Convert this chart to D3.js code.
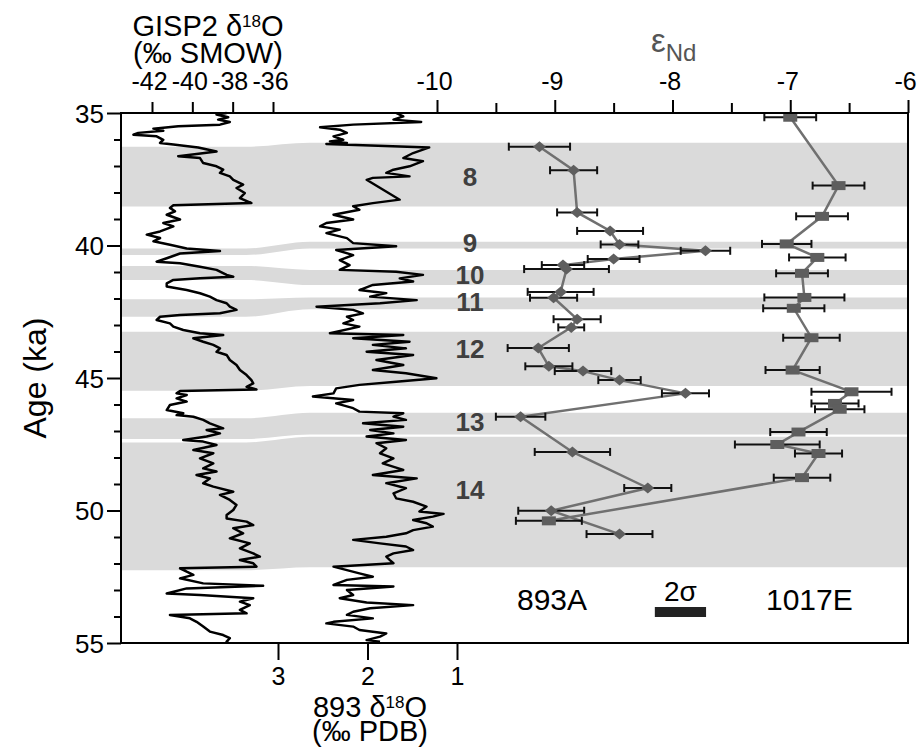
<!DOCTYPE html>
<html>
<head>
<meta charset="utf-8">
<script src="https://cdn.jsdelivr.net/npm/d3@7"></script>
<style>
  body { margin: 0; background: #fff; }
  svg text { font-family: "Liberation Sans", Arial, Helvetica, sans-serif; }
</style>
</head>
<body>
<div id="chart"></div>
<script>
// ---- data ----
// GISP2 d18O (permil SMOW) : [age ka, value]
var gisp2 = [
  [35.00,-38.30],[35.06,-38.80],[35.16,-38.22],[35.25,-38.72],[35.34,-38.14],[35.44,-38.63],
  [35.50,-40.70],[35.59,-41.93],[35.67,-41.44],[35.75,-42.68],[35.82,-42.92],[35.88,-41.77],
  [36.01,-41.44],[36.13,-41.60],[36.19,-40.94],[36.30,-39.71],[36.45,-38.80],[36.55,-39.79],
  [36.63,-40.70],[36.70,-39.62],[36.89,-39.46],[37.01,-38.80],[37.14,-38.47],[37.26,-38.63],
  [37.39,-38.14],[37.52,-37.97],[37.70,-37.48],[37.83,-37.81],[38.02,-37.40],[38.21,-37.64],
  [38.40,-37.07],[38.48,-40.94],[38.58,-41.11],[38.71,-40.86],[38.84,-41.27],[39.02,-40.61],
  [39.15,-41.44],[39.28,-40.94],[39.47,-41.60],[39.59,-42.26],[39.72,-41.60],[39.84,-41.93],
  [39.97,-41.11],[40.11,-40.28],[40.21,-38.63],[40.30,-40.61],[40.48,-41.27],[40.61,-41.77],
  [40.67,-40.61],[40.80,-39.62],[40.92,-38.80],[41.11,-38.30],[41.18,-37.97],[41.24,-39.62],
  [41.30,-40.94],[41.43,-41.27],[41.55,-41.27],[41.68,-40.28],[41.80,-39.62],[41.93,-39.13],
  [42.06,-38.80],[42.18,-38.30],[42.31,-38.14],[42.43,-37.81],[42.56,-38.63],[42.62,-40.61],
  [42.69,-41.60],[42.81,-41.77],[42.94,-41.11],[43.06,-40.94],[43.19,-40.45],[43.31,-39.62],
  [43.38,-38.47],[43.50,-39.95],[43.63,-39.46],[43.75,-38.96],[43.88,-38.63],[44.01,-38.80],
  [44.13,-38.30],[44.32,-38.14],[44.51,-37.81],[44.70,-37.64],[44.89,-37.31],[45.08,-37.07],
  [45.20,-36.98],[45.33,-37.31],[45.43,-36.82],[45.49,-40.61],[45.58,-40.78],[45.64,-40.28],
  [45.77,-40.78],[45.89,-40.28],[46.02,-41.11],[46.21,-41.27],[46.33,-40.45],[46.40,-40.78],
  [46.46,-39.95],[46.58,-39.46],[46.71,-39.13],[46.90,-38.47],[46.96,-39.29],[47.09,-38.63],
  [47.21,-39.29],[47.34,-40.45],[47.40,-39.46],[47.53,-38.80],[47.72,-39.95],[47.84,-38.96],
  [48.03,-39.62],[48.22,-38.96],[48.41,-39.46],[48.53,-38.80],[48.66,-39.79],[48.79,-39.13],
  [48.97,-39.46],[49.10,-38.96],[49.29,-37.97],[49.41,-38.63],[49.60,-38.14],[49.79,-37.81],
  [49.98,-37.97],[50.17,-38.30],[50.30,-38.30],[50.42,-37.31],[50.55,-36.98],[50.67,-37.97],
  [50.86,-37.48],[51.05,-38.14],[51.24,-37.15],[51.43,-37.64],[51.62,-36.98],[51.74,-36.65],
  [51.87,-37.64],[51.99,-36.98],[52.12,-36.82],[52.18,-40.61],[52.31,-40.28],[52.43,-39.95],
  [52.56,-40.61],[52.75,-39.46],[52.84,-36.49],[52.94,-40.28],[53.13,-41.27],[53.19,-39.62],
  [53.31,-36.98],[53.44,-37.64],[53.57,-37.15],[53.75,-37.64],[53.88,-37.31],[53.94,-41.11],
  [54.07,-40.12],[54.20,-39.79],[54.38,-39.46],[54.57,-39.13],[54.70,-38.47],[54.82,-38.14],
  [54.95,-38.30],[55.00,-38.20]
];

// ODP 893 d18O (permil PDB) : [age ka, value]
var odp893 = [
  [35.00,1.68],[35.13,1.60],[35.25,1.71],[35.34,1.40],[35.44,2.16],[35.54,2.53],[35.63,2.31],
  [35.75,2.23],[35.88,2.38],[36.01,2.27],[36.07,2.42],[36.13,2.23],[36.17,2.46],[36.30,1.31],
  [36.51,1.49],[36.70,1.60],[36.82,1.38],[37.01,1.53],[37.14,1.71],[37.26,1.79],[37.39,1.53],
  [37.45,1.94],[37.52,2.01],[38.27,1.64],[38.40,1.94],[38.52,2.16],[38.65,2.09],[38.84,2.38],
  [39.02,2.16],[39.15,2.46],[39.28,2.53],[39.40,2.31],[39.53,2.46],[39.72,2.23],[39.91,2.16],
  [40.03,1.68],[40.17,2.35],[40.36,2.16],[40.55,2.31],[40.74,2.20],[40.92,2.31],[40.99,1.68],
  [41.11,1.38],[41.24,1.64],[41.36,1.49],[41.49,1.94],[41.68,2.09],[41.80,1.79],[41.93,1.97],
  [42.06,1.45],[42.18,1.86],[42.31,2.57],[42.43,2.16],[42.56,2.05],[42.69,2.23],[42.81,2.16],
  [42.94,2.27],[43.06,2.09],[43.31,2.42],[43.38,1.60],[43.50,2.16],[43.63,1.53],[43.75,1.94],
  [43.88,1.57],[44.01,2.01],[44.13,1.49],[44.32,1.90],[44.51,1.60],[44.70,1.94],[44.82,1.57],
  [45.01,1.23],[45.14,1.68],[45.26,2.09],[45.39,2.35],[45.58,2.38],[45.70,2.61],[45.83,2.16],
  [45.96,2.35],[46.14,2.16],[46.27,2.09],[46.33,1.60],[46.46,1.71],[46.58,1.57],[46.71,2.05],
  [46.84,1.60],[46.96,1.97],[47.09,1.71],[47.21,2.01],[47.34,1.57],[47.46,1.90],[47.65,1.79],
  [47.84,1.86],[48.03,1.71],[48.22,1.83],[48.47,1.60],[48.66,1.94],[48.79,1.45],[48.97,1.79],
  [49.16,1.57],[49.35,1.71],[49.54,1.68],[49.67,1.49],[49.85,1.34],[50.04,1.42],[50.13,1.15],
  [50.23,1.27],[50.36,1.49],[50.48,1.34],[50.61,1.27],[50.74,1.49],[50.86,1.57],[50.99,1.79],
  [51.11,2.16],[51.24,1.86],[51.36,1.57],[51.49,1.49],[51.62,1.71],[51.74,1.79],[51.87,1.75],
  [51.99,1.71],[52.12,2.38],[52.25,2.23],[52.37,2.09],[52.50,1.94],[52.62,2.23],[52.81,2.38],
  [52.87,1.71],[53.00,2.23],[53.19,2.16],[53.31,2.31],[53.47,2.01],[53.57,1.49],[53.69,1.97],
  [53.82,2.16],[53.94,2.23],[54.07,1.94],[54.20,2.38],[54.26,2.46],[54.38,2.16],[54.51,2.09],
  [54.64,1.79],[54.76,1.86],[54.89,2.01],[54.95,1.86]
];

// eNd : [age ka, eNd, 2 sigma]
var nd893A = [
  [36.27,-9.13,0.26],[37.16,-8.84,0.20],[38.75,-8.81,0.17],[39.45,-8.53,0.28],[39.96,-8.45,0.16],
  [40.20,-7.72,0.21],[40.51,-8.50,0.22],[40.74,-8.93,0.18],[40.89,-8.90,0.36],[41.75,-8.95,0.28],
  [41.97,-9.01,0.20],[42.78,-8.81,0.20],[43.09,-8.86,0.11],[43.87,-9.14,0.26],[44.56,-9.05,0.20],
  [44.74,-8.76,0.24],[45.08,-8.45,0.18],[45.58,-7.89,0.20],[46.46,-9.29,0.21],[47.79,-8.85,0.32],
  [49.15,-8.21,0.20],[50.01,-9.03,0.28],[50.89,-8.45,0.28]
];
var nd1017E = [
  [35.16,-7.00,0.22],[37.74,-6.59,0.22],[38.90,-6.73,0.22],[39.94,-7.03,0.21],[40.45,-6.77,0.24],
  [41.05,-6.90,0.22],[41.96,-6.88,0.34],[42.37,-6.97,0.26],[43.48,-6.82,0.24],[44.70,-6.98,0.23],
  [45.52,-6.48,0.34],[45.96,-6.62,0.20],[46.18,-6.58,0.21],[47.04,-6.93,0.24],[47.51,-7.11,0.36],
  [47.85,-6.76,0.20],[48.76,-6.90,0.24],[50.39,-9.05,0.28]
];

// interstadial bands: ages on the GISP2 side and on the 893 side
var bandNames   = ["8", "9", "10", "11", "12", "13", "14"];
var bandTopG    = [36.27, 40.11, 40.77, 42.03, 43.25, 46.52, 47.43];
var bandBotG    = [38.53, 40.36, 41.30, 42.69, 45.48, 47.30, 52.25];
var bandTop893  = [36.12, 39.86, 40.92, 41.96, 43.25, 46.31, 47.22];
var bandBot893  = [38.53, 40.11, 41.49, 42.41, 45.30, 47.13, 52.14];
var bandLabelAge = [37.4, 39.9, 41.1, 42.1, 43.9, 46.65, 49.2];

var ageTicks = d3.range(35, 56);
var gispTicks = [-42, -40, -38, -36];
var pdbTicks = [3, 2, 1];
var ndTicks = [-10, -9.5, -9, -8.5, -8, -7.5, -7, -6.5, -6];
var twoSigma = [-8.15, -7.715];

// ---- layout ----
var W = 920, H = 754;
var L = 121, R = 908, T = 113, B = 643;
var FONT = '"Liberation Sans", Arial, Helvetica, sans-serif';

var svg = d3.select("#chart").append("svg").attr("width", W).attr("height", H);

var y = d3.scaleLinear().domain([35, 55]).range([T, B]);
var xG = d3.scaleLinear().domain([-42, -36]).range([152, 273]);
var xP = d3.scaleLinear().domain([3, 1]).range([278, 457]);
var xE = d3.scaleLinear().domain([-10, -6]).range([437, R]);

// grey bands, stepping between the two age models
var area = d3.area()
  .x(function(d) { return d[0]; })
  .y0(function(d) { return y(d[1]); })
  .y1(function(d) { return y(d[2]); })
  .curve(d3.curveMonotoneX);

bandNames.forEach(function(n, i) {
  var pts = [
    [L, bandTopG[i], bandBotG[i]],
    [246, bandTopG[i], bandBotG[i]],
    [310, bandTop893[i], bandBot893[i]],
    [R, bandTop893[i], bandBot893[i]]
  ];
  svg.append("path").attr("d", area(pts)).attr("fill", "#dadada");
  svg.append("text")
    .attr("x", 470).attr("y", y(bandLabelAge[i])).attr("dy", "0.36em")
    .attr("text-anchor", "middle")
    .attr("font-size", 26).attr("font-weight", "bold").attr("fill", "#3f3f3f")
    .text(n);
});

// d18O curves
svg.append("path").datum(gisp2)
  .attr("d", d3.line().x(function(d) { return xG(d[1]); }).y(function(d) { return y(d[0]); }))
  .attr("fill", "none").attr("stroke", "#000").attr("stroke-width", 2.5).attr("stroke-linejoin", "round");

svg.append("path").datum(odp893)
  .attr("d", d3.line().x(function(d) { return xP(d[1]); }).y(function(d) { return y(d[0]); }))
  .attr("fill", "none").attr("stroke", "#000").attr("stroke-width", 2.4).attr("stroke-linejoin", "round");

// eNd series
var ndLine = d3.line().x(function(d) { return xE(d[1]); }).y(function(d) { return y(d[0]); });

function drawNd(data, shape) {
  var g = svg.append("g");
  g.append("path").datum(data).attr("d", ndLine)
    .attr("fill", "none").attr("stroke", "#707070").attr("stroke-width", 2.5);
  var eb = g.selectAll(".eb").data(data).enter().append("g");
  eb.append("line")
    .attr("x1", function(d) { return xE(d[1] - d[2]); })
    .attr("x2", function(d) { return xE(d[1] + d[2]); })
    .attr("y1", function(d) { return y(d[0]); })
    .attr("y2", function(d) { return y(d[0]); })
    .attr("stroke", "#111").attr("stroke-width", 2);
  [-1, 1].forEach(function(s) {
    eb.append("line")
      .attr("x1", function(d) { return xE(d[1] + s * d[2]); })
      .attr("x2", function(d) { return xE(d[1] + s * d[2]); })
      .attr("y1", function(d) { return y(d[0]) - 4; })
      .attr("y2", function(d) { return y(d[0]) + 4; })
      .attr("stroke", "#111").attr("stroke-width", 2);
  });
  g.selectAll(".mk").data(data).enter().append("path")
    .attr("transform", function(d) { return "translate(" + xE(d[1]) + "," + y(d[0]) + ")"; })
    .attr("d", shape)
    .attr("fill", "#5e5e5e");
}
drawNd(nd893A, "M0,-5.5L6.5,0L0,5.5L-6.5,0Z");
drawNd(nd1017E, "M-7,-4.5H7V4.5H-7Z");

// axes
function styleAxis(g) {
  g.attr("font-family", FONT).attr("font-size", 25);
  g.select(".domain").remove();
  g.selectAll(".tick line").attr("stroke", "#000").attr("stroke-width", 2);
  g.selectAll(".tick text").attr("fill", "#000");
}

var gL = svg.append("g").attr("transform", "translate(" + L + ",0)")
  .call(d3.axisLeft(y).tickValues(ageTicks).tickFormat(function(d) { return d % 5 === 0 ? d : ""; }));
styleAxis(gL);
gL.attr("font-size", 26);
gL.selectAll(".tick line").attr("x2", function(d) { return d % 5 === 0 ? -14 : -7; });
gL.selectAll(".tick text").attr("x", -17).attr("dy", "0.36em");

var gG = svg.append("g").attr("transform", "translate(0," + T + ")")
  .call(d3.axisTop(xG).tickValues(gispTicks).tickFormat(function(d) { return "-" + Math.abs(d); }));
styleAxis(gG);
gG.selectAll(".tick line").attr("y2", -11);
gG.selectAll(".tick text").attr("y", -23).attr("dy", 0).attr("dx", -3);

var gE = svg.append("g").attr("transform", "translate(0," + T + ")")
  .call(d3.axisTop(xE).tickValues(ndTicks).tickFormat(function(d) { return d % 1 === 0 ? "-" + Math.abs(d) : ""; }));
styleAxis(gE);
gE.selectAll(".tick line").attr("y2", function(d) { return d % 1 === 0 ? -13 : -10; });
gE.selectAll(".tick text").attr("y", -23).attr("dy", 0).attr("dx", -3);

var gP = svg.append("g").attr("transform", "translate(0," + B + ")")
  .call(d3.axisBottom(xP).tickValues(pdbTicks).tickFormat(d3.format("d")));
styleAxis(gP);
gP.selectAll(".tick line").attr("y2", 17);
gP.selectAll(".tick text").attr("y", 42).attr("dy", 0);

// frame
svg.append("rect").attr("x", L).attr("y", T).attr("width", R - L).attr("height", B - T)
  .attr("fill", "none").attr("stroke", "#000").attr("stroke-width", 2);

// titles
function title(x, yy, size) {
  return svg.append("text").attr("x", x).attr("y", yy).attr("text-anchor", "middle")
    .attr("font-size", size).attr("fill", "#000");
}
var t1 = title(208, 36, 29);
t1.append("tspan").text("GISP2 \u03b4");
t1.append("tspan").attr("font-size", 17).attr("baseline-shift", "super").text("18");
t1.append("tspan").text("O");
title(208, 63, 29).text("(\u2030 SMOW)");

var t2 = title(370, 717, 29);
t2.append("tspan").text("893 \u03b4");
t2.append("tspan").attr("font-size", 17).attr("baseline-shift", "super").text("18");
t2.append("tspan").text("O");
title(370, 741, 29).text("(\u2030 PDB)");

var te = svg.append("text").attr("x", 651).attr("y", 52).attr("fill", "#555").attr("font-size", 33);
te.append("tspan").text("\u03b5");
te.append("tspan").attr("font-size", 24).attr("dy", 9).text("Nd");

svg.append("text")
  .attr("transform", "translate(46," + ((T + B) / 2) + ") rotate(-90)")
  .attr("text-anchor", "middle").attr("font-size", 32).attr("fill", "#000")
  .text("Age (ka)");

// record labels + 2 sigma scale bar
svg.append("text").attr("x", 517).attr("y", 610).attr("font-size", 30).text("893A");
svg.append("text").attr("x", 766).attr("y", 610).attr("font-size", 30).text("1017E");
svg.append("text").attr("x", (xE(twoSigma[0]) + xE(twoSigma[1])) / 2).attr("y", 601)
  .attr("text-anchor", "middle").attr("font-size", 28).text("2\u03c3");
svg.append("rect")
  .attr("x", xE(twoSigma[0])).attr("y", 607)
  .attr("width", xE(twoSigma[1]) - xE(twoSigma[0])).attr("height", 10)
  .attr("fill", "#222");
</script>
</body>
</html>
